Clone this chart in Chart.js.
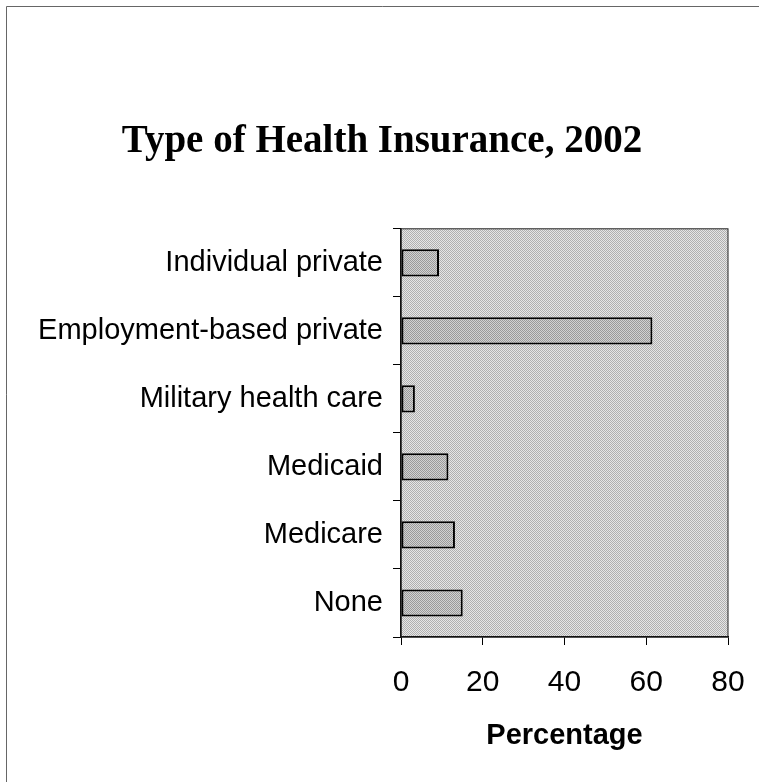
<!DOCTYPE html>
<html>
<head>
<meta charset="utf-8">
<script src="https://cdn.jsdelivr.net/npm/chart.js@4/dist/chart.umd.min.js"></script>
<style>
  html, body { margin: 0; padding: 0; background: #fff; }
  #wrap { width: 759px; height: 782px; position: relative; }
</style>
</head>
<body>
<div id="wrap"><canvas id="insuranceChart"></canvas></div>
<script>
// dữ liệu
const categories = ['Individual private', 'Employment-based private', 'Military health care', 'Medicaid', 'Medicare', 'None'];
const percentages = [9.3, 61.5, 3.4, 11.6, 13.2, 15.1];
const xTicks = [0, 20, 40, 60, 80];

// tạo họa tiết chấm xám giống bản in
function makeDither(light, dark) {
    const c = document.createElement('canvas');
    c.width = 2; c.height = 2;
    const g = c.getContext('2d');
    g.fillStyle = light; g.fillRect(0, 0, 2, 2);
    g.fillStyle = dark; g.fillRect(0, 0, 1, 1); g.fillRect(1, 1, 1, 1);
    return g.createPattern(c, 'repeat');
}

const plotFill = makeDither('#e6e6e6', '#b0b0b0');
const barFill = makeDither('#d2d2d2', '#9a9a9a');

const frame = {
    id: 'frame',
    beforeDraw(chart) {
        const ctx = chart.ctx;
        const a = chart.chartArea;
        ctx.save();
        // khung ngoài
        ctx.strokeStyle = '#666';
        ctx.lineWidth = 1;
        ctx.beginPath();
        ctx.moveTo(6.5, 782);
        ctx.lineTo(6.5, 6.5);
        ctx.lineTo(759, 6.5);
        ctx.stroke();
        // nền vùng vẽ
        ctx.fillStyle = plotFill;
        ctx.fillRect(a.left, a.top, a.right - a.left, a.bottom - a.top);
        ctx.restore();
    },
    afterDraw(chart) {
        const ctx = chart.ctx;
        const a = chart.chartArea;
        ctx.save();
        ctx.strokeStyle = '#222';
        ctx.lineWidth = 1;
        ctx.strokeRect(a.left, a.top, a.right - a.left, a.bottom - a.top);
        ctx.restore();
    }
};

const config = {
    type: 'bar',
    data: {
        labels: categories,
        datasets: [{
            data: percentages,
            backgroundColor: barFill,
            borderColor: '#000',
            borderWidth: 2,
            borderSkipped: false,
            barPercentage: 0.4,
            categoryPercentage: 1
        }]
    },
    options: {
        indexAxis: 'y',
        responsive: true,
        maintainAspectRatio: false,
        animation: false,
        layout: { padding: { left: 36, right: 31, top: 0, bottom: 25 } },
        plugins: {
            legend: { display: false },
            tooltip: { enabled: false },
            title: {
                display: true,
                text: 'Type of Health Insurance, 2002',
                color: '#000',
                font: { family: '"Liberation Serif", "Times New Roman", serif', size: 39, weight: 'bold' },
                padding: { top: 119, bottom: 63 }
            }
        },
        scales: {
            x: {
                min: 0,
                max: 80,
                afterBuildTicks: scale => { scale.ticks = xTicks.map(v => ({ value: v })); },
                afterFit: scale => {
                    scale.height = 120;
                    scale.paddingLeft = 0;
                    scale.paddingRight = 0;
                },
                grid: { drawOnChartArea: false, tickLength: 8, color: '#000' },
                border: { color: '#000', width: 1.5 },
                ticks: {
                    color: '#000',
                    padding: 20,
                    font: { family: '"Liberation Sans", Arial, sans-serif', size: 30 }
                },
                title: {
                    display: true,
                    text: 'Percentage',
                    color: '#000',
                    padding: { top: 14 },
                    font: { family: '"Liberation Sans", Arial, sans-serif', size: 29, weight: 'bold' }
                }
            },
            y: {
                afterFit: scale => { scale.width = 365; },
                grid: { drawOnChartArea: false, tickLength: 8, color: '#000', offset: true },
                border: { color: '#000', width: 1.5 },
                ticks: {
                    color: '#000',
                    padding: 10,
                    font: { family: '"Liberation Sans", Arial, sans-serif', size: 29 }
                }
            }
        }
    },
    plugins: [frame]
};

new Chart(document.getElementById('insuranceChart'), config);
</script>
</body>
</html>
